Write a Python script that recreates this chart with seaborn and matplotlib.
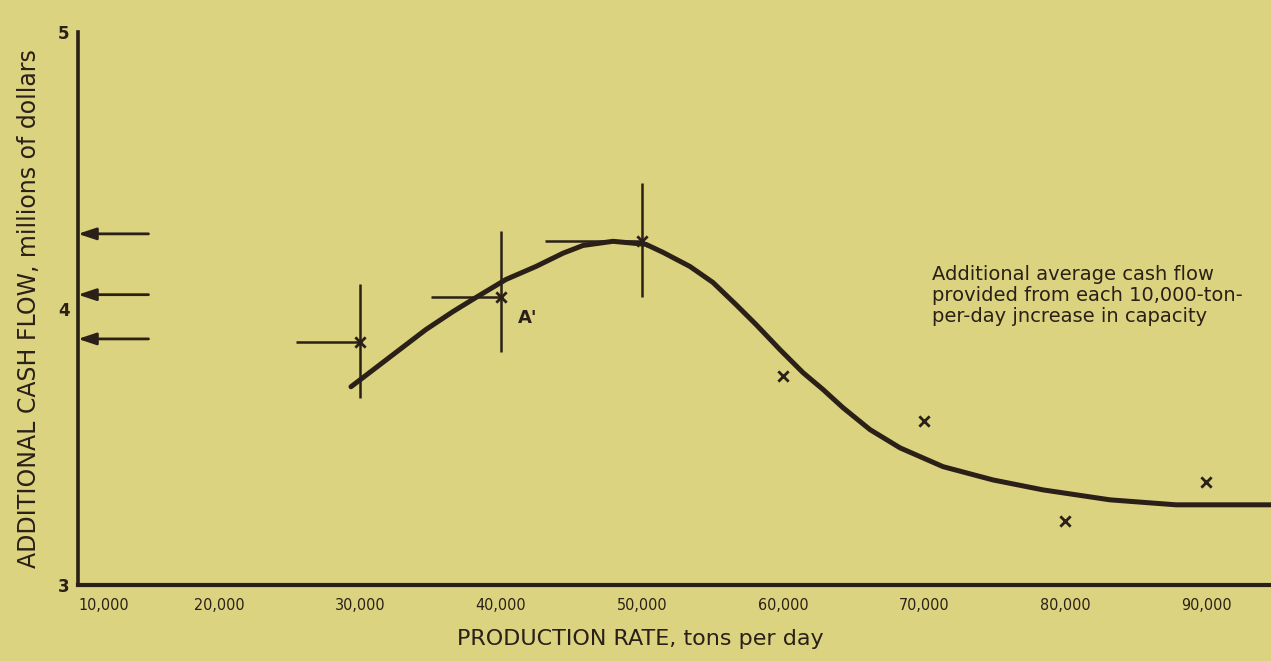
import numpy as np
import pandas as pd
import matplotlib
matplotlib.use("Agg")
import matplotlib.pyplot as plt
import seaborn as sns

# ---- data ----
curve_x = [29360, 30210, 32340, 34680, 36600, 38230, 40350, 42480, 44400, 45820,
           47940, 50280, 51490, 53400, 55035, 56670, 58090, 59790, 61420, 62840,
           64260, 66170, 68300, 71350, 74890, 78440, 83190, 87870, 94800]
curve_y = [3.717, 3.75, 3.833, 3.924, 3.989, 4.04, 4.105, 4.152, 4.20, 4.228,
           4.243, 4.232, 4.203, 4.152, 4.094, 4.014, 3.942, 3.851, 3.768, 3.707,
           3.641, 3.562, 3.496, 3.428, 3.380, 3.344, 3.308, 3.290, 3.290]

point_x = [30000, 40000, 50000, 60000, 70000, 80000, 90000]
point_y = [3.88, 4.04, 4.245, 3.757, 3.594, 3.232, 3.373]

# error bars at first three points
eb_x = [30000, 40000, 50000]
eb_y = [3.88, 4.04, 4.245]
eb_low = [3.678, 3.841, 4.043]
eb_high = [4.087, 4.279, 4.453]
eb_left = [25460, 35035, 43120]

# arrows at y-axis
arrow_y = [4.27, 4.05, 3.89]
arrow_start = 15000

x_ticks = [10000, 20000, 30000, 40000, 50000, 60000, 70000, 80000, 90000]
x_tick_labels = ["10,000", "20,000", "30,000", "40,000", "50,000",
                 "60,000", "70,000", "80,000", "90,000"]
y_ticks = [3, 4, 5]

note_text = ("Additional average cash flow\n"
             "provided from each 10,000-ton-\n"
             "per-day jncrease in capacity")

# ---- styling ----
bg = "#DBD37F"
ink = "#2A2018"
sns.set_theme(style="white")
plt.rcParams["font.family"] = ["DejaVu Sans"]

fig = plt.figure(figsize=(12.71, 6.61), dpi=100, facecolor=bg)
ax = fig.add_axes([78/1271, 1-585/661, 1-78/1271, (585-32)/661])
ax.set_facecolor(bg)

sns.lineplot(x=curve_x, y=curve_y, sort=False, ax=ax, color=ink, lw=3.6,
             solid_capstyle="round", solid_joinstyle="round")
sns.scatterplot(x=point_x, y=point_y, marker="x", s=55, color=ink,
                linewidth=2.0, ax=ax, zorder=5)

for xx, yy, lo, hi, lf in zip(eb_x, eb_y, eb_low, eb_high, eb_left):
    ax.errorbar([xx], [yy], yerr=[[yy-lo], [hi-yy]], xerr=[[xx-lf], [0]],
                fmt="none", ecolor=ink, elinewidth=1.8, capsize=0)

for yy in arrow_y:
    ax.annotate("", xy=(10000, yy), xytext=(arrow_start, yy),
                arrowprops=dict(arrowstyle="-|>,head_length=0.9,head_width=0.3",
                                color=ink, lw=2.0, shrinkA=0, shrinkB=0))

ax.text(41200, 3.967, "A'", fontsize=13, color=ink, fontweight="bold",
        ha="left", va="center")
ax.text(70570, 4.047, note_text, fontsize=14, color=ink, ha="left", va="center",
        linespacing=1.12)

ax.set_xlim(10000, 94610)
ax.set_ylim(3, 5)
ax.set_xticks(x_ticks)
ax.set_xticklabels(x_tick_labels, fontsize=11.5, color=ink, fontstretch="condensed")
ax.get_xticklabels()[0].set_ha("left")
ax.set_yticks(y_ticks)
ax.set_yticklabels([str(v) for v in y_ticks], fontsize=12, color=ink,
                   fontweight="bold")
ax.tick_params(axis="x", direction="in", length=12, width=1.6, color=ink, pad=9)
ax.tick_params(axis="y", direction="in", length=8, width=2, color=ink, pad=6)

for s in ["top", "right"]:
    ax.spines[s].set_visible(False)
ax.spines["left"].set_color(ink)
ax.spines["left"].set_linewidth(2.6)
ax.spines["bottom"].set_color(ink)
ax.spines["bottom"].set_linewidth(3.0)

ax.set_xlabel("PRODUCTION RATE, tons per day", fontsize=16, color=ink)
ax.set_ylabel("ADDITIONAL CASH FLOW, millions of dollars", fontsize=17, color=ink)
ax.xaxis.set_label_coords((640-78)/1193, -0.08)
ax.yaxis.set_label_coords(-0.031, 0.5)

fig.savefig("out.png", dpi=100, facecolor=bg)
